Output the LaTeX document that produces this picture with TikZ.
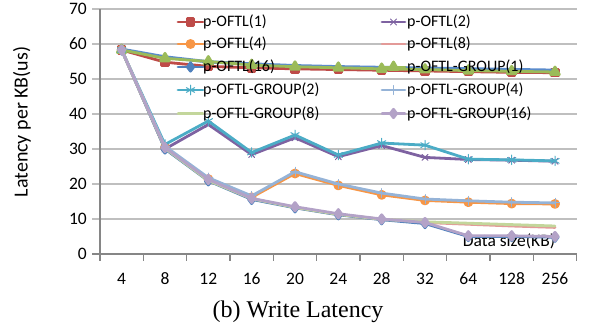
\documentclass[tikz,border=0pt]{standalone}
\usepackage{fontspec}
\setmainfont{Liberation Serif}
\newfontfamily\chartfont{Carlito}
\usetikzlibrary{plotmarks}

\definecolor{gridgray}{HTML}{BFBFBF}
\definecolor{axisgray}{HTML}{868686}
\definecolor{cRed}{HTML}{BE4B48}
\definecolor{cPurple}{HTML}{7E62A1}
\definecolor{cOrange}{HTML}{F79646}
\definecolor{cPink}{HTML}{E39A98}
\definecolor{cBlue}{HTML}{4F81BD}
\definecolor{cTopBlue}{HTML}{5A8BCB}
\definecolor{cGreen}{HTML}{9BBB59}
\definecolor{cAqua}{HTML}{4BACC6}
\definecolor{cLBlue}{HTML}{95B3D7}
\definecolor{cLGreen}{HTML}{C3D69B}
\definecolor{cLPurple}{HTML}{B3A2C7}

\tikzset{
  gridline/.style={draw=gridgray, line width=1.1pt},
  axisline/.style={draw=axisgray, line width=1.1pt},
  series/.style={line width=2.8pt, line join=round, line cap=round,
                 mark options={solid, line width=0.8pt}},
  sA/.style={series, draw=cRed, mark=square*, mark size=3.3pt, mark options={fill=cRed}},
  sB/.style={series, draw=cPurple, mark=x, mark size=4.2pt, mark options={line width=1pt}},
  sC/.style={series, draw=cOrange, mark=*, mark size=3.5pt, mark options={fill=cOrange}},
  sD/.style={series, draw=cPink},
  sE/.style={series, draw=cBlue, mark=diamond*, mark size=4.2pt, mark options={fill=cBlue}},
  sF/.style={series, draw=cGreen, mark=triangle*, mark size=5pt, mark options={fill=cGreen}},
  sG/.style={series, draw=cAqua, mark=asterisk, mark size=4.8pt, mark options={line width=1pt}},
  sH/.style={series, draw=cLBlue, mark=+, mark size=4.5pt, mark options={line width=1pt}},
  sI/.style={series, draw=cLGreen},
  sJ/.style={series, draw=cLPurple, mark=diamond*, mark size=4.2pt, mark options={fill=cLPurple}},
  sTop/.style={series, draw=cTopBlue, line width=3.2pt},
  legtext/.style={anchor=west, inner sep=0pt, font=\chartfont\fontsize{16}{19}\selectfont},
  ticklabel/.style={inner sep=0pt, font=\chartfont\fontsize{17.5}{21}\selectfont},
}

\begin{document}
\begin{tikzpicture}[x=1pt, y=1pt]
\useasboundingbox (0,0) rectangle (589,333);

% horizontal gridlines (10 .. 70) with their y ticks, and the value axis
\foreach \v in {10,20,...,70}
  \draw[gridline] (92,79+3.5*\v) -- (577,79+3.5*\v);
\draw[axisline] (100,79) -- (100,324);
\draw[axisline] (92,79) -- (577,79);
% category ticks below the axis
\foreach \k in {0,...,11}
  \draw[axisline] (100+43.333*\k,79) -- (100+43.333*\k,72);

% value labels
\foreach \v in {0,10,...,70}
  \node[ticklabel, anchor=east] (yl\v) at (87,79+3.5*\v) {\v};

% category labels
\foreach \c [count=\i from 0] in {4,8,12,16,20,24,28,32,64,128,256}
  \node[ticklabel] (xl\i) at (121.667+43.333*\i,54) {\c};

% axis titles
\node[rotate=90, inner sep=0pt, font=\chartfont\fontsize{20}{24}\selectfont] (ytitle) at (22,211) {Latency per KB(us)};
\node[inner sep=0pt, font=\chartfont\fontsize{17.5}{21}\selectfont] (xtitle) at (509,92) {Data size(KB)};

% caption
\node[inner sep=0pt, font=\fontsize{24}{28}\selectfont] (caption) at (298,21) {(b) Write Latency};

% data series: x = category index, y = latency
\begin{scope}[shift={(121.667,79)}, x=43.333pt, y=3.5pt]
\draw[sA] plot coordinates {(0,58.3) (1,54.8) (2,53.6) (3,53.2) (4,52.9) (5,52.7) (6,52.5) (7,52.3) (8,52.1) (9,51.9) (10,51.8)};
\draw[sTop] plot coordinates {(0,58.5) (1,56.3) (2,54.9) (3,54.3) (4,53.8) (5,53.5) (6,53.3) (7,53.1) (8,52.9) (9,52.7) (10,52.5)};
\draw[sB] plot coordinates {(0,58.3) (1,30.0) (2,37.0) (3,28.4) (4,33.2) (5,27.8) (6,31.0) (7,27.6) (8,27.0) (9,26.8) (10,26.5)};
\draw[sC] plot coordinates {(0,58.3) (1,30.5) (2,21.4) (3,16.2) (4,23.0) (5,19.6) (6,16.9) (7,15.3) (8,14.8) (9,14.4) (10,14.3)};
\draw[sD] plot coordinates {(0,58.3) (1,30.2) (2,21.0) (3,15.8) (4,13.3) (5,11.3) (6,9.9) (7,9.0) (8,8.5) (9,8.0) (10,7.6)};
\draw[sE] plot coordinates {(0,58.3) (1,30.0) (2,20.9) (3,15.6) (4,13.2) (5,11.2) (6,9.8) (7,8.7) (8,5.0) (9,5.0) (10,4.8)};
\draw[sF] plot coordinates {(0,58.3) (1,55.9) (2,55.0) (3,54.0) (4,53.5) (5,53.2) (6,52.9) (7,52.7) (8,52.4) (9,52.2) (10,52.0)};
\draw[sG] plot coordinates {(0,58.3) (1,31.3) (2,38.0) (3,29.0) (4,34.0) (5,28.3) (6,31.7) (7,31.1) (8,27.1) (9,26.9) (10,26.6)};
\draw[sH] plot coordinates {(0,58.3) (1,30.8) (2,21.8) (3,16.6) (4,23.5) (5,20.0) (6,17.4) (7,15.7) (8,15.2) (9,14.8) (10,14.6)};
\draw[sI] plot coordinates {(0,58.3) (1,30.2) (2,21.0) (3,15.8) (4,13.3) (5,11.3) (6,9.9) (7,9.2) (8,8.8) (9,8.4) (10,8.0)};
\draw[sJ] plot coordinates {(0,58.3) (1,30.4) (2,21.3) (3,15.9) (4,13.5) (5,11.5) (6,10.0) (7,9.0) (8,5.2) (9,5.2) (10,5.0)};
\end{scope}

% legend, two columns
\draw[sA, mark indices={2}] plot coordinates {(178,311) (190.5,311) (203,311)};
\node[legtext] (lgA) at (203,311) {p-OFTL(1)};
\draw[sB, mark indices={2}] plot coordinates {(382,311) (393.5,311) (405,311)};
\node[legtext] (lgB) at (407,311) {p-OFTL(2)};
\draw[sC, mark indices={2}] plot coordinates {(178,289) (190.5,289) (203,289)};
\node[legtext] (lgC) at (203,289) {p-OFTL(4)};
\draw[sD] plot coordinates {(382,289) (405,289)};
\node[legtext] (lgD) at (407,289) {p-OFTL(8)};
\draw[sE, mark indices={2}] plot coordinates {(178,266) (190.5,266) (203,266)};
\node[legtext] (lgE) at (203,266) {p-OFTL(16)};
\draw[sF, mark indices={2}] plot coordinates {(382,266) (393.5,266) (405,266)};
\node[legtext] (lgF) at (407,266) {p-OFTL-GROUP(1)};
\draw[sG, mark indices={2}] plot coordinates {(178,243) (190.5,243) (203,243)};
\node[legtext] (lgG) at (203,243) {p-OFTL-GROUP(2)};
\draw[sH, mark indices={2}] plot coordinates {(382,243) (393.5,243) (405,243)};
\node[legtext] (lgH) at (407,243) {p-OFTL-GROUP(4)};
\draw[sI] plot coordinates {(178,219.5) (203,219.5)};
\node[legtext] (lgI) at (203,219.5) {p-OFTL-GROUP(8)};
\draw[sJ, mark indices={2}] plot coordinates {(382,219.5) (393.5,219.5) (405,219.5)};
\node[legtext] (lgJ) at (407,219.5) {p-OFTL-GROUP(16)};
\end{tikzpicture}
\end{document}
